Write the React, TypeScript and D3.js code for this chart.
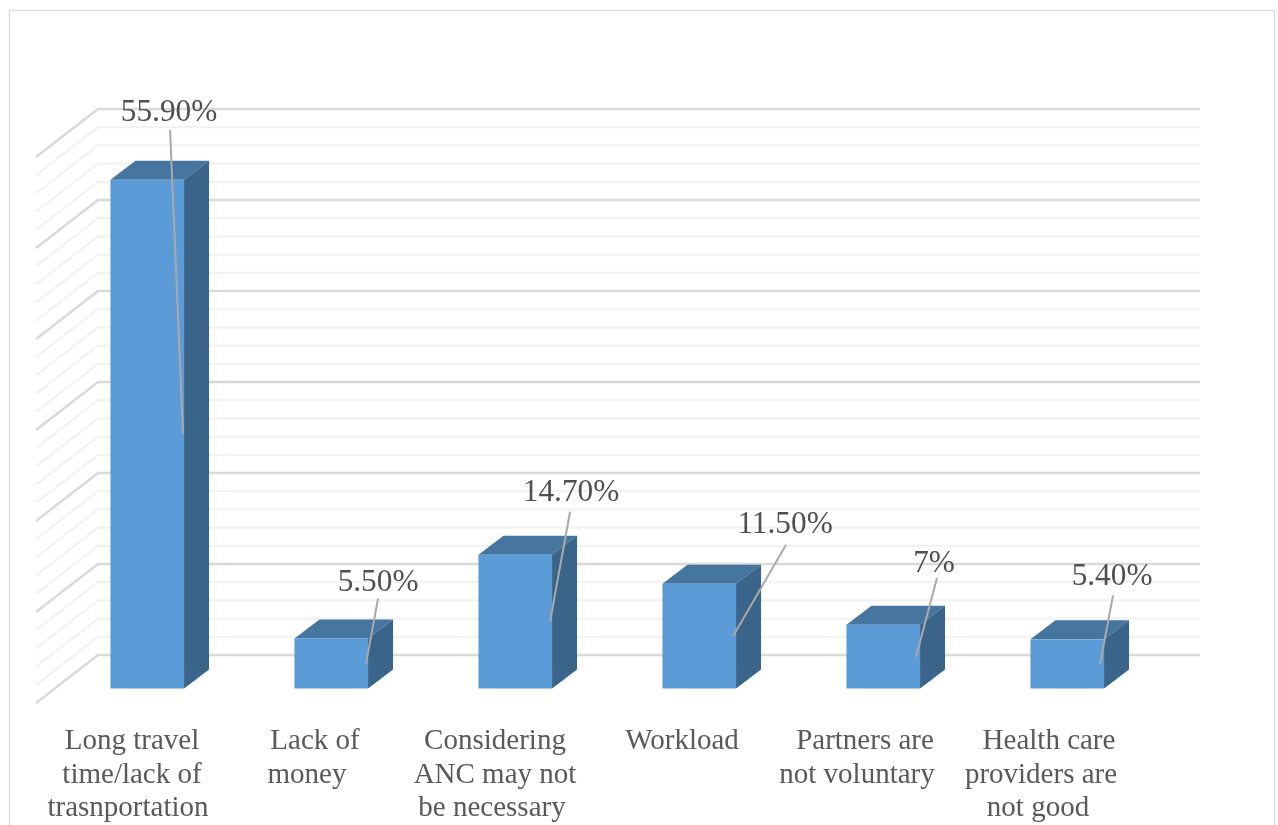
import * as d3 from "d3";
import { useEffect, useRef } from "react";

const categories = [
  ["Long travel", "time/lack of", "trasnportation"],
  ["Lack of", "money"],
  ["Considering", "ANC may not", "be necessary"],
  ["Workload"],
  ["Partners are", "not voluntary"],
  ["Health care", "providers are", "not good"],
];
const values = [55.9, 5.5, 14.7, 11.5, 7, 5.4];
const valueLabels = ["55.90%", "5.50%", "14.70%", "11.50%", "7%", "5.40%"];
const majorTicks = [0, 10, 20, 30, 40, 50, 60];
const minorTicks = d3.range(0, 60, 2).filter((t) => t % 10 !== 0);

// where each label sits relative to the bar's top right corner
const labelOffset = [
  [-15, -59],
  [10, -47],
  [19, -54],
  [49, -51],
  [14, -53],
  [8, -54],
];
const leaderStart = [
  [-14, -50],
  [10, -40],
  [18, -43],
  [50, -39],
  [17, -47],
  [9, -44],
];
const leaderInset = [1, 2, 2, 3, 4, 4];
// the category lines are not quite centred on each other in the original
const lineShift = [
  [0, 0, -4],
  [1, -7],
  [-1, -1, -4],
  [4],
  [5, -3],
  [7, -1, -4],
];

const WIDTH = 1278;
const HEIGHT = 825;

export default function App() {
  const ref = useRef<SVGSVGElement>(null);

  useEffect(() => {
    if (!ref.current) return;
    const svg = d3.select(ref.current);
    svg.selectAll("*").remove();

    const wallLeft = 98;
    const wallRight = 1200;
    const side = { dx: -62, dy: 48 };
    const barFrontDy = 33.5; // bar front base sits below the back wall base
    const depth = { dx: 25, dy: -19 };

    const y = d3.scaleLinear().domain([0, 60]).range([655, 109]);
    const x = d3
      .scaleBand<number>()
      .domain(d3.range(values.length))
      .range([55.25, 1159.25])
      .paddingInner(0.6)
      .paddingOuter(0.3);
    const labelX = d3.scalePoint<number>().domain(d3.range(values.length)).range([132, 1042]);

    svg
      .append("rect")
      .attr("x", 9.5)
      .attr("y", 10.5)
      .attr("width", 1265)
      .attr("height", 830)
      .attr("fill", "#fff")
      .attr("stroke", "#dcdcdc")
      .attr("stroke-width", 1.4);

    const drawGrid = (ticks: number[], color: string, w: number) => {
      const line = d3.line();
      svg
        .append("g")
        .selectAll("path")
        .data(ticks)
        .join("path")
        .attr("fill", "none")
        .attr("stroke", color)
        .attr("stroke-width", w)
        .attr("d", (t) =>
          line([
            [wallLeft + side.dx, y(t) + side.dy],
            [wallLeft, y(t)],
            [wallRight, y(t)],
          ])
        );
    };
    drawGrid(minorTicks, "#f2f2f2", 2.2);
    drawGrid(majorTicks, "#d9d9d9", 2.4);

    const bars = svg.append("g").selectAll("g").data(values).join("g");

    const poly = (pts: [number, number][]) => pts.map((p) => p.join(",")).join(" ");
    const geom = (v: number, i: number) => ({
      l: x(i) ?? 0,
      r: (x(i) ?? 0) + x.bandwidth(),
      top: y(v) + barFrontDy,
      base: y(0) + barFrontDy,
    });

    bars
      .append("polygon")
      .attr("fill", "#46759f")
      .attr("points", (v, i) => {
        const g = geom(v, i);
        return poly([
          [g.l, g.top],
          [g.l + depth.dx, g.top + depth.dy],
          [g.r + depth.dx, g.top + depth.dy],
          [g.r, g.top],
        ]);
      });
    bars
      .append("polygon")
      .attr("fill", "#3a6489")
      .attr("points", (v, i) => {
        const g = geom(v, i);
        return poly([
          [g.r, g.top],
          [g.r + depth.dx, g.top + depth.dy],
          [g.r + depth.dx, g.base + depth.dy],
          [g.r, g.base],
        ]);
      });
    bars
      .append("rect")
      .attr("fill", "#5b9bd7")
      .attr("x", (v, i) => geom(v, i).l)
      .attr("y", (v, i) => geom(v, i).top)
      .attr("width", x.bandwidth())
      .attr("height", (v, i) => geom(v, i).base - geom(v, i).top);

    // leader lines end near the right edge at half the bar height
    svg
      .append("g")
      .selectAll("line")
      .data(values)
      .join("line")
      .attr("stroke", "#a9a9a9")
      .attr("stroke-width", 2)
      .attr("x1", (v, i) => geom(v, i).r + leaderStart[i][0])
      .attr("y1", (v, i) => geom(v, i).top + leaderStart[i][1])
      .attr("x2", (v, i) => geom(v, i).r - leaderInset[i])
      .attr("y2", (v, i) => (geom(v, i).top + geom(v, i).base) / 2);

    svg
      .append("g")
      .selectAll("text")
      .data(valueLabels)
      .join("text")
      .attr("x", (d, i) => geom(values[i], i).r + labelOffset[i][0])
      .attr("y", (d, i) => geom(values[i], i).top + labelOffset[i][1])
      .attr("text-anchor", "middle")
      .attr("font-family", "'Liberation Serif', serif")
      .attr("font-size", 31.3)
      .attr("fill", "#505050")
      .text((d) => d);

    const cat = svg
      .append("g")
      .selectAll("text")
      .data(categories)
      .join("text")
      .attr("text-anchor", "middle")
      .attr("font-family", "'Liberation Serif', serif")
      .attr("font-size", 29)
      .attr("fill", "#595959");
    cat
      .selectAll("tspan")
      .data((d, i) => d.map((s, j) => ({ s, i, j })))
      .join("tspan")
      .attr("x", (d) => (labelX(d.i) ?? 0) + lineShift[d.i][d.j])
      .attr("y", (d) => 749 + d.j * 33.6)
      .text((d) => d.s);
  }, []);

  return (
    <svg
      ref={ref}
      width={WIDTH}
      height={HEIGHT}
      style={{
        position: "absolute",
        left: 0,
        top: 0,
        display: "block",
        background: "#fff",
        filter: "blur(0.45px)",
      }}
    />
  );
}
